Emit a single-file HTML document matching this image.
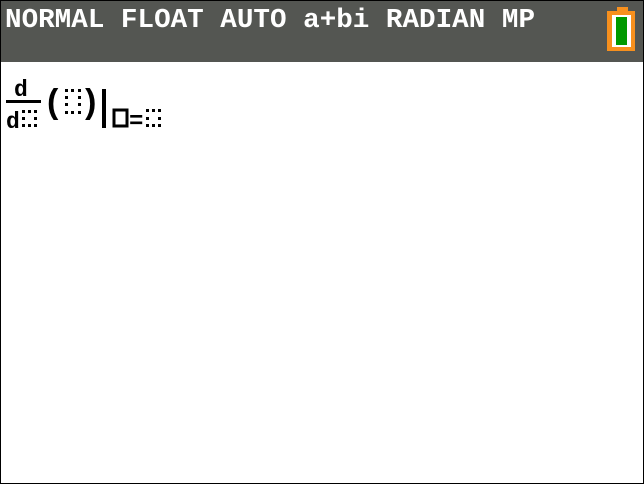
<!DOCTYPE html>
<html><head><style>
body{margin:0;background:#fff}
#s{position:relative;width:642px;height:482px;border:1px solid #000;overflow:hidden;background:#fff}
#h{position:absolute;left:0;top:0;width:642px;height:61px;background:#545652}
</style></head><body><div id="s">
<div id="h"></div>
<svg width="642" height="482" style="position:absolute;left:0;top:0">
<text x="4" y="26" fill="#fff" font-family="Liberation Mono,monospace" font-weight="bold" font-size="27" textLength="530" lengthAdjust="spacingAndGlyphs">NORMAL FLOAT AUTO a+bi RADIAN MP</text>
<rect x="606" y="10" width="28" height="40" fill="#f7901e"/>
<rect x="616" y="6" width="11" height="5" fill="#f7901e"/>
<rect x="611" y="14" width="19" height="32" fill="#fff"/>
<rect x="615" y="16" width="11" height="28" fill="#009900"/>
<g font-family="Liberation Mono,monospace" font-weight="bold" fill="#000">
<text x="13" y="95" font-size="23">d</text>
<rect x="5" y="99" width="35" height="3"/>
<text x="5" y="127" font-size="23">d</text>
<text x="42" y="112" font-size="34">(</text>
<text x="79" y="112" font-size="34">)</text>
<text x="128" y="127" font-size="24">=</text>
</g>
<rect x="101" y="88" width="4" height="39" fill="#000"/>
<rect x="113" y="109" width="13" height="16" fill="none" stroke="#000" stroke-width="3"/>
<g fill="#000">
<rect x="21" y="109" width="3" height="3"/><rect x="27" y="109" width="3" height="3"/><rect x="33" y="109" width="3" height="3"/>
<rect x="21" y="116" width="3" height="3"/><rect x="33" y="116" width="3" height="3"/>
<rect x="21" y="123" width="3" height="3"/><rect x="27" y="123" width="3" height="3"/><rect x="33" y="123" width="3" height="3"/>
<rect x="64" y="88" width="3" height="3"/><rect x="70" y="88" width="3" height="3"/><rect x="77" y="88" width="3" height="3"/>
<rect x="64" y="95" width="3" height="3"/><rect x="77" y="95" width="3" height="3"/>
<rect x="64" y="102" width="3" height="3"/><rect x="77" y="102" width="3" height="3"/>
<rect x="64" y="110" width="3" height="3"/><rect x="70" y="110" width="3" height="3"/><rect x="77" y="110" width="3" height="3"/>
<rect x="145" y="108" width="3" height="3"/><rect x="151" y="108" width="3" height="3"/><rect x="157" y="108" width="3" height="3"/>
<rect x="145" y="116" width="3" height="3"/><rect x="157" y="116" width="3" height="3"/>
<rect x="145" y="123" width="3" height="3"/><rect x="151" y="123" width="3" height="3"/><rect x="157" y="123" width="3" height="3"/>
</g>
</svg>
</div></body></html>
